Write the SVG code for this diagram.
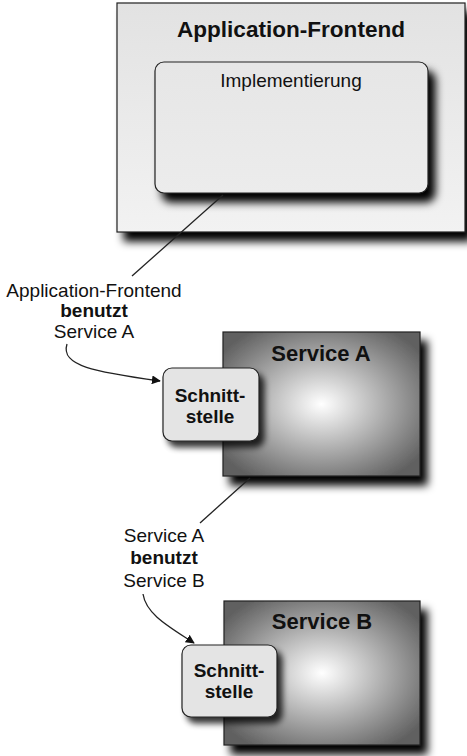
<svg xmlns="http://www.w3.org/2000/svg" width="467" height="756" viewBox="0 0 467 756">
<defs>
<filter id="sh" x="-10%" y="-10%" width="130%" height="140%">
<feGaussianBlur in="SourceAlpha" stdDeviation="4"/>
<feOffset dx="7" dy="9" result="b"/>
<feComponentTransfer><feFuncA type="linear" slope="1"/></feComponentTransfer>
<feMerge><feMergeNode/><feMergeNode in="SourceGraphic"/></feMerge>
</filter>
<filter id="sh2" x="-10%" y="-10%" width="130%" height="140%">
<feGaussianBlur in="SourceAlpha" stdDeviation="3"/>
<feOffset dx="5" dy="6" result="b"/>
<feComponentTransfer><feFuncA type="linear" slope="0.8"/></feComponentTransfer>
<feMerge><feMergeNode/><feMergeNode in="SourceGraphic"/></feMerge>
</filter>
<linearGradient id="lg" x1="0" y1="0" x2="0" y2="1">
<stop offset="0" stop-color="#e2e2e2"/>
<stop offset="1" stop-color="#f2f2f2"/>
</linearGradient>
<linearGradient id="lg2" x1="0" y1="0" x2="0" y2="1">
<stop offset="0" stop-color="#e6e6e6"/>
<stop offset="1" stop-color="#ececec"/>
</linearGradient>
<radialGradient id="rg" cx="0.5" cy="0.5" r="0.62">
<stop offset="0" stop-color="#ffffff"/>
<stop offset="1" stop-color="#606060"/>
</radialGradient>
<marker id="ah" viewBox="0 0 10 10" refX="9" refY="5" markerWidth="9" markerHeight="9" markerUnits="userSpaceOnUse" orient="auto">
<path d="M0,0 L10,5 L0,10 z" fill="#111"/>
</marker>
<style>
.t{font-family:"Liberation Sans",Arial,sans-serif;fill:#111;text-anchor:middle}
.b{font-weight:bold}
.box{stroke:#222;stroke-width:1.2}
.ln{fill:none;stroke:#222;stroke-width:1.3}
.lab{font-size:19px}
.sn{font-size:19px;font-weight:bold}
.ti{font-size:22px;font-weight:bold}
</style>
</defs>
<g id="frontend">
<rect class="box" x="117" y="3" width="348" height="229" fill="url(#lg)" filter="url(#sh)"/>
<text class="t ti" x="291" y="37" textLength="228" lengthAdjust="spacingAndGlyphs">Application-Frontend</text>
</g>
<g id="impl">
<rect class="box" x="155" y="62" width="273" height="131" rx="9" fill="url(#lg2)" filter="url(#sh)"/>
<text class="t" x="291" y="87" font-size="19" fill="#222">Implementierung</text>
</g>
<g id="serviceA">
<rect class="box" x="223" y="332" width="197" height="144" fill="url(#rg)" filter="url(#sh)"/>
<text class="t ti" x="321" y="361">Service A</text>
</g>
<g id="schnittA">
<rect class="box" x="163" y="368" width="96" height="73" rx="9" fill="#e4e4e4" filter="url(#sh2)"/>
<text class="t sn" x="210" y="402">Schnitt-</text>
<text class="t sn" x="210" y="423">stelle</text>
</g>
<g id="serviceB">
<rect class="box" x="224" y="601" width="196" height="144" fill="url(#rg)" filter="url(#sh)"/>
<text class="t ti" x="322" y="629">Service B</text>
</g>
<g id="schnittB">
<rect class="box" x="182" y="645" width="95" height="72" rx="9" fill="#e4e4e4" filter="url(#sh2)"/>
<text class="t sn" x="229" y="677">Schnitt-</text>
<text class="t sn" x="229" y="698">stelle</text>
</g>
<g id="connectors">
<line class="ln" x1="223" y1="195" x2="132" y2="276"/>
<path class="ln" d="M67,344 C60,366 95,372 160,381" marker-end="url(#ah)"/>
<line class="ln" x1="250" y1="478" x2="200" y2="523"/>
<path class="ln" d="M143,594 C146,614 168,626 194,643" marker-end="url(#ah)"/>
</g>
<g id="labels">
<text class="t lab" x="94" y="297">Application-Frontend</text>
<text class="t lab b" x="94" y="317">benutzt</text>
<text class="t lab" x="94" y="338">Service A</text>
<text class="t lab" x="164" y="542">Service A</text>
<text class="t lab b" x="164" y="564">benutzt</text>
<text class="t lab" x="164" y="587">Service B</text>
</g>
</svg>
